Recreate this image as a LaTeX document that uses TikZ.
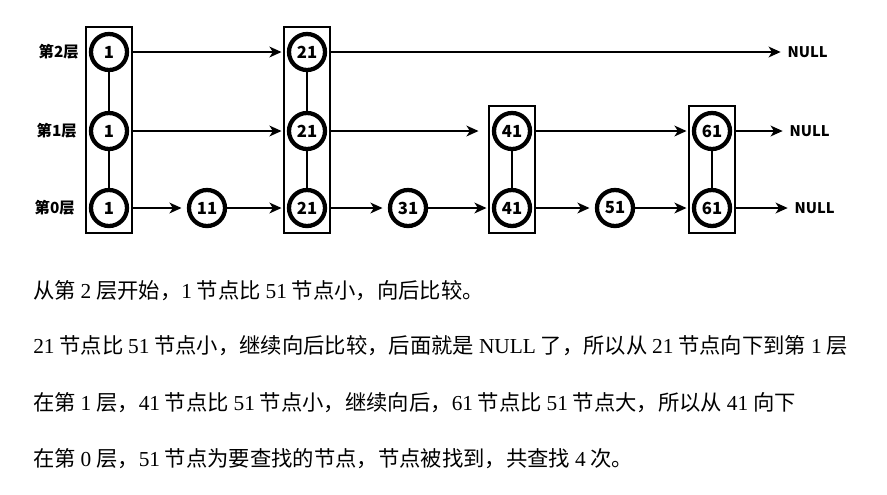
\documentclass[tikz,border=0pt]{standalone}
\usepackage{fontspec}
\setmainfont{Liberation Serif}
\newfontfamily\cjk{Noto Sans CJK SC}
\usetikzlibrary{arrows.meta,fit}
\newcommand\sz[1]{\textrm{#1}}
\begin{document}
\begin{tikzpicture}[x=0.75pt,y=-0.75pt,
  key/.style={circle,draw,line width=3.2pt,minimum size=27pt,inner sep=0pt,fill=white,
    font=\cjk\bfseries\fontsize{12.5pt}{12.5pt}\selectfont},
  tower/.style={draw,line width=1.8pt,inner xsep=2pt,inner ysep=3.5pt},
  link/.style={line width=1.8pt,-{Stealth[length=9pt,width=8pt,inset=2.5pt]},shorten >=4pt},
  rung/.style={line width=1.5pt},
  lvl/.style={font=\cjk\bfseries\fontsize{11.5pt}{11.5pt}\selectfont,anchor=east,inner sep=0pt},
  nul/.style={font=\cjk\bfseries\fontsize{11pt}{11pt}\selectfont,anchor=west,inner sep=1pt},
  txt/.style={font=\cjk\fontsize{16pt}{19pt}\selectfont,anchor=west,inner sep=0pt}]
\useasboundingbox (0,0) rectangle (887,494);
\node[lvl] (l2) at (79,52) {第2层};
\node[lvl] (l1) at (77,131) {第1层};
\node[lvl] (l0) at (75,208) {第0层};
\node[key] (a2) at (109,52) {1};
\node[key] (a1) at (109,131) {1};
\node[key] (a0) at (109,208) {1};
\node[key] (b0) at (207,208) {11};
\node[key] (c2) at (307,52) {21};
\node[key] (c1) at (307,131) {21};
\node[key] (c0) at (307,208) {21};
\node[key] (d0) at (408,208) {31};
\node[key] (e1) at (512,131) {41};
\node[key] (e0) at (512,208) {41};
\node[key] (f0) at (615,208) {51};
\node[key] (g1) at (712,131) {61};
\node[key] (g0) at (712,208) {61};
\node[nul] (n2) at (786,52) {NULL};
\node[nul] (n1) at (788,131) {NULL};
\node[nul] (n0) at (793,208) {NULL};
\node[tower,fit=(a2)(a0)] (ra) {};
\node[tower,fit=(c2)(c0)] (rc) {};
\node[tower,fit=(e1)(e0)] (re) {};
\node[tower,fit=(g1)(g0)] (rg) {};
\draw[rung] (a2)--(a1) (a1)--(a0) (c2)--(c1) (c1)--(c0) (e1)--(e0) (g1)--(g0);
\draw[link] (ra.east|-a2)--(c2);
\draw[link] (rc.east|-c2)--(n2.west);
\draw[link] (ra.east|-a1)--(c1);
\draw[link,shorten >=10pt] (rc.east|-c1)--(e1);
\draw[link] (re.east|-e1)--(g1);
\draw[link] (rg.east|-g1)--(n1.west);
\draw[link] (ra.east|-a0)--(b0);
\draw[link] (b0)--(c0);
\draw[link] (rc.east|-c0)--(d0);
\draw[link] (d0)--(e0);
\draw[link] (re.east|-e0)--(f0);
\draw[link] (f0)--(g0);
\draw[link] (rg.east|-g0)--(n0.west);
\node[txt] (t1) at (33,291) {从第 \sz{2} 层开始，\sz{1} 节点比 \sz{51} 节点小，向后比较。};
\node[txt] (t2) at (33,346) {\sz{21} 节点比 \sz{51} 节点小，继续向后比较，后面就是 \sz{NULL} 了，所以从 \sz{21} 节点向下到第 \sz{1} 层};
\node[txt] (t3) at (33,403) {在第 \sz{1} 层，\sz{41} 节点比 \sz{51} 节点小，继续向后，\sz{61} 节点比 \sz{51} 节点大，所以从 \sz{41} 向下};
\node[txt] (t4) at (33,459) {在第 \sz{0} 层，\sz{51} 节点为要查找的节点，节点被找到，共查找 \sz{4} 次。};
\end{tikzpicture}
\end{document}
